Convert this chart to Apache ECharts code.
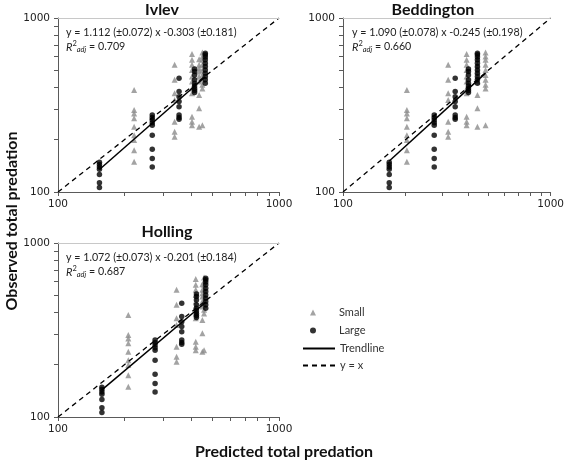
<!DOCTYPE html>
<html><head><meta charset="utf-8">
<script src="https://cdn.jsdelivr.net/npm/echarts@6/dist/echarts.min.js"></script>
<style>html,body{margin:0;padding:0;background:#fff}#c{width:567px;height:465px}</style>
</head><body><div id="c"></div>
<script>
const panelNames = ['Ivlev', 'Beddington', 'Holling'];
const equations = ['y = 1.112 (±0.072) x -0.303 (±0.181)', 'y = 1.090 (±0.078) x -0.245 (±0.198)', 'y = 1.072 (±0.073) x -0.201 (±0.184)'];
const r2adj = ['0.709', '0.660', '0.687'];
const slopes = [1.112, 1.090, 1.072];
const intercepts = [-0.303, -0.245, -0.201];
const axisTickValues = [100, 200, 300, 400, 500, 600, 700, 800, 900, 1000];
const axisLabelValues = [100, 1000];
const gridLineValue = 1000;

// observed totals, grouped by prediction cluster (same observations in every panel)
const largeObserved = [
  [148, 144, 139, 135, 126, 113, 106],
  [277, 268, 259, 250, 242, 212, 176, 156, 139],
  [451, 378, 353, 331, 309, 277, 268, 262],
  [510, 492, 471, 441, 422, 407, 394, 383, 373],
  [628, 614, 596, 575, 550, 526, 503, 482, 461, 441, 422]
];
const smallObserved = [
  [386, 296, 283, 265, 237, 212, 199, 174, 149],
  [538, 441, 369, 338, 253, 222, 208],
  [620, 575, 538, 503, 461, 431, 394, 369, 271, 253, 242],
  [580, 538, 515, 492, 461, 431, 361, 303, 237],
  [634, 601, 575, 538, 503, 471, 441, 413, 394, 242]
];
// predicted totals per cluster, per model
const ivlevLargePred = [154, 267, 353, 415, 464];
const ivlevSmallPred = [221, 337, 404, 435, 450];
const beddLargePred = [167, 275, 347, 402, 444];
const beddSmallPred = [203, 321, 394, 444, 486];
const hollLargePred = [158, 275, 363, 423, 466];
const hollSmallPred = [208, 344, 420, 450, 458];

const largePreds = [ivlevLargePred, beddLargePred, hollLargePred];
const smallPreds = [ivlevSmallPred, beddSmallPred, hollSmallPred];

const grids = [
  {left: 58, top: 18, width: 221, height: 174},
  {left: 343, top: 18, width: 212, height: 174},
  {left: 58, top: 243, width: 221, height: 174}
];
const titlePos = [[162, 10], [433, 10], [167, 232]];
const eqPos = [[66, 33], [352, 33], [66, 258]];

function pairs(pred, obs) {
  const out = [];
  pred.forEach((x, i) => obs[i].forEach(y => out.push([x, y])));
  return out;
}
const TXT = 'Lato';
const axisColor = '#5a5a5a';
function mkAxis(i, isY) {
  return {
    type: 'log', logBase: 10, min: 100, max: 1000, gridIndex: i,
    axisLine: {show: true, onZero: false, lineStyle: {color: axisColor, width: 1}},
    axisTick: {show: true, customValues: axisTickValues, length: 4, lineStyle: {color: axisColor}},
    axisLabel: {customValues: axisLabelValues, formatter: v => String(Math.round(v)),
      fontFamily: 'DejaVu Sans', fontSize: 10.5, color: '#222', margin: isY ? 8 : 7},
    splitLine: {show: false},
    minorTick: {show: false}
  };
}

const series = [];
const graphic = [];
for (let i = 0; i < 3; i++) {
  series.push({name: 'Small', type: 'scatter', xAxisIndex: i, yAxisIndex: i, symbol: 'triangle', symbolSize: 6,
    itemStyle: {color: '#8c8c8c'}, data: pairs(smallPreds[i], smallObserved), z: 2,
    markLine: {silent: true, symbol: 'none', animation: false, label: {show: false},
      lineStyle: {color: '#c8c8c8', type: 'solid', width: 1}, data: [{yAxis: gridLineValue}]}});
  series.push({name: 'Large', type: 'scatter', xAxisIndex: i, yAxisIndex: i, symbol: 'circle', symbolSize: 5.5,
    itemStyle: {color: '#000'}, data: pairs(largePreds[i], largeObserved), z: 3});
  const xs = largePreds[i].concat(smallPreds[i]);
  const xmin = Math.min(...xs), xmax = Math.max(...xs);
  const f = x => Math.pow(10, slopes[i] * Math.log10(x) + intercepts[i]);
  series.push({name: 'Trendline', type: 'line', xAxisIndex: i, yAxisIndex: i, symbol: 'none',
    itemStyle: {color: 'rgba(0,0,0,0)'},
    lineStyle: {color: '#000', width: 1.5}, data: [[xmin, f(xmin)], [xmax, f(xmax)]], z: 4, animation: false});
  series.push({name: 'y = x', type: 'line', xAxisIndex: i, yAxisIndex: i, symbol: 'none',
    itemStyle: {color: 'rgba(0,0,0,0)'},
    lineStyle: {color: '#000', width: 1.3, type: [5, 4]}, data: [[100, 100], [1000, 1000]], z: 4, animation: false});

  graphic.push({type: 'text', x: titlePos[i][0], y: titlePos[i][1],
    style: {text: panelNames[i], font: 'bold 16px ' + TXT, fill: '#111', align: 'center', verticalAlign: 'middle'}});
  graphic.push({type: 'text', x: eqPos[i][0], y: eqPos[i][1],
    style: {text: equations[i], font: '10.7px ' + TXT, fill: '#222', align: 'left', verticalAlign: 'middle'}});
  graphic.push({type: 'text', x: eqPos[i][0], y: eqPos[i][1] + 14,
    style: {text: '{r|R}{sup|2}{sub|adj}{t| = ' + r2adj[i] + '}', align: 'left', verticalAlign: 'middle',
      rich: {
        r: {fontFamily: TXT, fontSize: 11, fontStyle: 'italic', fill: '#222'},
        sup: {fontFamily: TXT, fontSize: 7.5, fill: '#222', padding: [0, 0, 7, 0]},
        sub: {fontFamily: TXT, fontSize: 7.5, fontStyle: 'italic', fill: '#222', padding: [6, 0, 0, 0]},
        t: {fontFamily: TXT, fontSize: 10.7, fill: '#222'}
      }}});
}
graphic.push({type: 'text', x: 284, y: 452,
  style: {text: 'Predicted total predation', font: 'bold 16px ' + TXT, fill: '#111', align: 'center', verticalAlign: 'middle'}});
graphic.push({type: 'text', x: 12, y: 221, rotation: Math.PI / 2,
  style: {text: 'Observed total predation', font: 'bold 16px ' + TXT, fill: '#111', align: 'center', verticalAlign: 'middle'}});

const chart = echarts.init(document.getElementById('c'), null, {renderer: 'canvas'});
chart.setOption({
  animation: false,
  backgroundColor: '#fff',
  grid: grids,
  xAxis: [0, 1, 2].map(i => mkAxis(i, false)),
  yAxis: [0, 1, 2].map(i => mkAxis(i, true)),
  legend: [
    {data: [{name: 'Small', icon: 'triangle'}, {name: 'Large', icon: 'circle'}], orient: 'vertical', left: 305, top: 302,
      itemWidth: 6, itemHeight: 6, itemGap: 7,
      textStyle: {fontFamily: TXT, fontSize: 11, color: '#333', padding: [0, 0, 0, 18]}, selectedMode: false},
    {data: ['Trendline', 'y = x'], orient: 'vertical', left: 297, top: 338, itemWidth: 32, itemHeight: 6, itemGap: 6,
      itemStyle: {opacity: 0},
      textStyle: {fontFamily: TXT, fontSize: 11, color: '#333'}, selectedMode: false}
  ],
  graphic: graphic,
  series: series
});
</script></body></html>
